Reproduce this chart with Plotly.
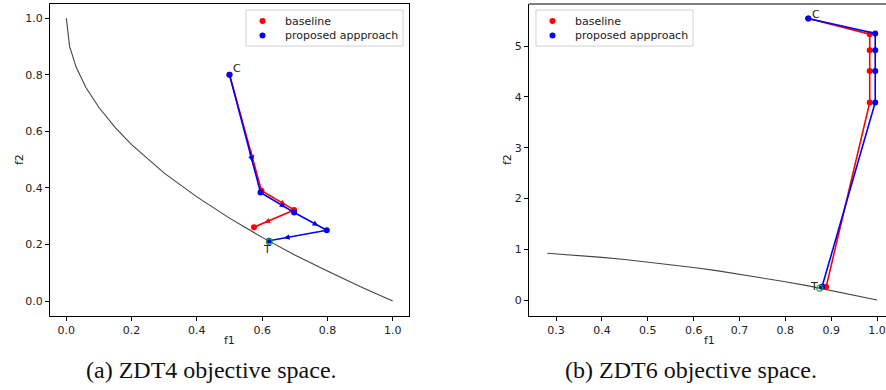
import plotly.graph_objects as go

# ---- ZDT4 (left panel) ----
zdt4_front_f1 = [0.0, 0.01, 0.03, 0.06, 0.10, 0.15, 0.20, 0.30, 0.40, 0.50, 0.60, 0.70, 0.80, 0.90, 1.0]
zdt4_front_f2 = [1.0, 0.90, 0.827, 0.755, 0.684, 0.613, 0.553, 0.452, 0.368, 0.293, 0.225, 0.163, 0.106, 0.051, 0.0]
zdt4_base_f1 = [0.50, 0.598, 0.698, 0.575]
zdt4_base_f2 = [0.80, 0.390, 0.322, 0.261]
zdt4_prop_f1 = [0.50, 0.595, 0.698, 0.798, 0.621]
zdt4_prop_f2 = [0.80, 0.384, 0.313, 0.250, 0.213]
zdt4_target = (0.622, 0.209)

# ---- ZDT6 (right panel) ----
zdt6_front_f1 = [0.281, 0.35, 0.40, 0.45, 0.50, 0.55, 0.60, 0.65, 0.70, 0.75, 0.80, 0.85, 0.90, 0.95, 1.0]
zdt6_front_f2 = [0.921, 0.878, 0.840, 0.798, 0.750, 0.698, 0.640, 0.578, 0.510, 0.438, 0.360, 0.278, 0.190, 0.098, 0.0]
zdt6_base_f1 = [0.850, 0.984, 0.984, 0.984, 0.984, 0.889]
zdt6_base_f2 = [5.545, 5.236, 4.92, 4.51, 3.89, 0.26]
zdt6_prop_f1 = [0.850, 0.996, 0.996, 0.996, 0.996, 0.880]
zdt6_prop_f2 = [5.545, 5.25, 4.92, 4.51, 3.89, 0.26]
zdt6_target = (0.875, 0.234)

legend_names = ["baseline", "proposed appproach"]
caption_left = "(a) ZDT4 objective space."
caption_right = "(b) ZDT6 objective space."

RED = "#ff0000"
BLUE = "#0000ff"
FRONT = "#444444"
FONT = "DejaVu Sans"
W, H = 886, 390

fig = go.Figure()


def px(x, y):
    """pixel position on the page -> paper coordinates"""
    return x / W, 1 - y / H


def add_panel(xr, yr, ff1, ff2, bf1, bf2, pf1, pf2, tgt):
    fig.add_trace(go.Scatter(x=ff1, y=ff2, mode="lines", line=dict(color=FRONT, width=1.1),
                             xaxis=xr, yaxis=yr, hoverinfo="skip"))
    fig.add_trace(go.Scatter(x=bf1, y=bf2, mode="lines+markers", name=legend_names[0],
                             line=dict(color=RED, width=1.6), marker=dict(color=RED, size=6),
                             xaxis=xr, yaxis=yr))
    fig.add_trace(go.Scatter(x=pf1, y=pf2, mode="lines+markers", name=legend_names[1],
                             line=dict(color=BLUE, width=1.6), marker=dict(color=BLUE, size=6),
                             xaxis=xr, yaxis=yr))
    fig.add_trace(go.Scatter(x=[tgt[0]], y=[tgt[1]], mode="markers",
                             marker=dict(color="rgba(0,0,0,0)", size=6,
                                         line=dict(color="#22aa22", width=1.2)),
                             xaxis=xr, yaxis=yr, hoverinfo="skip"))


add_panel("x", "y", zdt4_front_f1, zdt4_front_f2, zdt4_base_f1, zdt4_base_f2,
          zdt4_prop_f1, zdt4_prop_f2, zdt4_target)
add_panel("x2", "y2", zdt6_front_f1, zdt6_front_f2, zdt6_base_f1, zdt6_base_f2,
          zdt6_prop_f1, zdt6_prop_f2, zdt6_target)

annotations = []
shapes = []

# small direction arrows along the ZDT4 trajectories
for f1s, f2s, col in [(zdt4_base_f1, zdt4_base_f2, RED), (zdt4_prop_f1, zdt4_prop_f2, BLUE)]:
    for i in range(len(f1s) - 1):
        x0, y0, x1, y1 = f1s[i], f2s[i], f1s[i + 1], f2s[i + 1]
        annotations.append(dict(
            x=x0 + 0.74 * (x1 - x0), y=y0 + 0.74 * (y1 - y0),
            ax=x0 + 0.64 * (x1 - x0), ay=y0 + 0.64 * (y1 - y0),
            xref="x", yref="y", axref="x", ayref="y", text="", showarrow=True,
            arrowhead=2, arrowsize=0.7, arrowwidth=1.6, arrowcolor=col))

# C / T labels
label_font = dict(family=FONT, size=11, color="#222222")
annotations += [
    dict(x=zdt4_prop_f1[0], y=zdt4_prop_f2[0], xref="x", yref="y", text="C", showarrow=False,
         xshift=7, yshift=6, font=label_font),
    dict(x=zdt4_prop_f1[-1], y=zdt4_prop_f2[-1], xref="x", yref="y", text="T", showarrow=False,
         xshift=-2, yshift=-9, font=label_font),
    dict(x=zdt6_prop_f1[0], y=zdt6_prop_f2[0], xref="x2", yref="y2", text="C", showarrow=False,
         xshift=8, yshift=4, font=label_font),
    dict(x=zdt6_target[0], y=zdt6_target[1], xref="x2", yref="y2", text="T", showarrow=False,
         xshift=-6, yshift=2, font=label_font),
]

# axis titles
axis_font = dict(family=FONT, size=11, color="#222222")
for (xp, yp), ang in [((229, 340), 0), ((709, 340), 0), ((19, 160), -90), ((507, 160), -90)]:
    px_, py_ = px(xp, yp)
    annotations.append(dict(x=px_, y=py_, xref="paper", yref="paper", xanchor="center",
                            yanchor="middle", text="f1" if ang == 0 else "f2", textangle=ang,
                            showarrow=False, font=axis_font))

# panel captions
cap_font = dict(family="Liberation Serif", size=24, color="#111111")
for (xp, yp), txt in [((211, 370), caption_left), ((691, 370), caption_right)]:
    px_, py_ = px(xp, yp)
    annotations.append(dict(x=px_, y=py_, xref="paper", yref="paper", xanchor="center",
                            yanchor="middle", text=txt, showarrow=False, font=cap_font))

# legends drawn in page coordinates
for (bx0, by0, bx1, by1) in [(246, 10, 403, 46), (536, 10, 693, 46)]:
    x0, y0 = px(bx0, by0)
    x1, y1 = px(bx1, by1)
    shapes.append(dict(type="rect", xref="paper", yref="paper", x0=x0, y0=y1, x1=x1, y1=y0,
                       fillcolor="white", line=dict(color="#d0d0d0", width=1), layer="above"))
    for k, (name, col) in enumerate(zip(legend_names, [RED, BLUE])):
        cy = by0 + 11 + 14.5 * k
        dx = bx0 + 16.5
        cx0, cy0 = px(dx - 3, cy - 3)
        cx1, cy1 = px(dx + 3, cy + 3)
        shapes.append(dict(type="circle", xref="paper", yref="paper", x0=cx0, y0=cy1,
                           x1=cx1, y1=cy0, fillcolor=col, line=dict(color=col, width=0),
                           layer="above"))
        tx, ty = px(bx0 + 36.5, cy)
        annotations.append(dict(x=tx, y=ty, xref="paper", yref="paper", xanchor="left",
                                yanchor="middle", text=name, showarrow=False,
                                font=dict(family=FONT, size=11, color="#222222")))

# top border on the right panel (its right edge runs off the page)
shapes.append(dict(type="line", xref="x2 domain", yref="y2 domain", x0=0, x1=1, y0=1, y1=1,
                   line=dict(color="black", width=1)))

axis_common = dict(showgrid=False, zeroline=False, showline=True, linecolor="black",
                   linewidth=1, ticks="outside", ticklen=4, tickcolor="black",
                   tickfont=dict(family=FONT, size=11, color="#222222"))

y_dom = [1 - 316 / H, 1 - 4 / H]
fig.update_layout(
    width=W, height=H,
    margin=dict(l=0, r=0, t=0, b=0),
    paper_bgcolor="white", plot_bgcolor="white",
    showlegend=False,
    xaxis=dict(domain=[50 / W, 409 / W], range=[-0.05, 1.05], tickvals=[0, 0.2, 0.4, 0.6, 0.8, 1.0],
               ticktext=["0.0", "0.2", "0.4", "0.6", "0.8", "1.0"], mirror=True, anchor="y", **axis_common),
    yaxis=dict(domain=y_dom, range=[-0.053, 1.05], tickvals=[0, 0.2, 0.4, 0.6, 0.8, 1.0],
               ticktext=["0.0", "0.2", "0.4", "0.6", "0.8", "1.0"], mirror=True, anchor="x", **axis_common),
    xaxis2=dict(domain=[529 / W, 1.0], range=[0.241, 1.0195],
                tickvals=[0.3, 0.4, 0.5, 0.6, 0.7, 0.8, 0.9, 1.0],
                ticktext=["0.3", "0.4", "0.5", "0.6", "0.7", "0.8", "0.9", "1.0"], mirror=False,
                anchor="y2", **axis_common),
    yaxis2=dict(domain=y_dom, range=[-0.315, 5.83], tickvals=[0, 1, 2, 3, 4, 5], mirror=False,
                anchor="x2", **axis_common),
    annotations=annotations,
    shapes=shapes,
)

fig.write_html("out.html")
